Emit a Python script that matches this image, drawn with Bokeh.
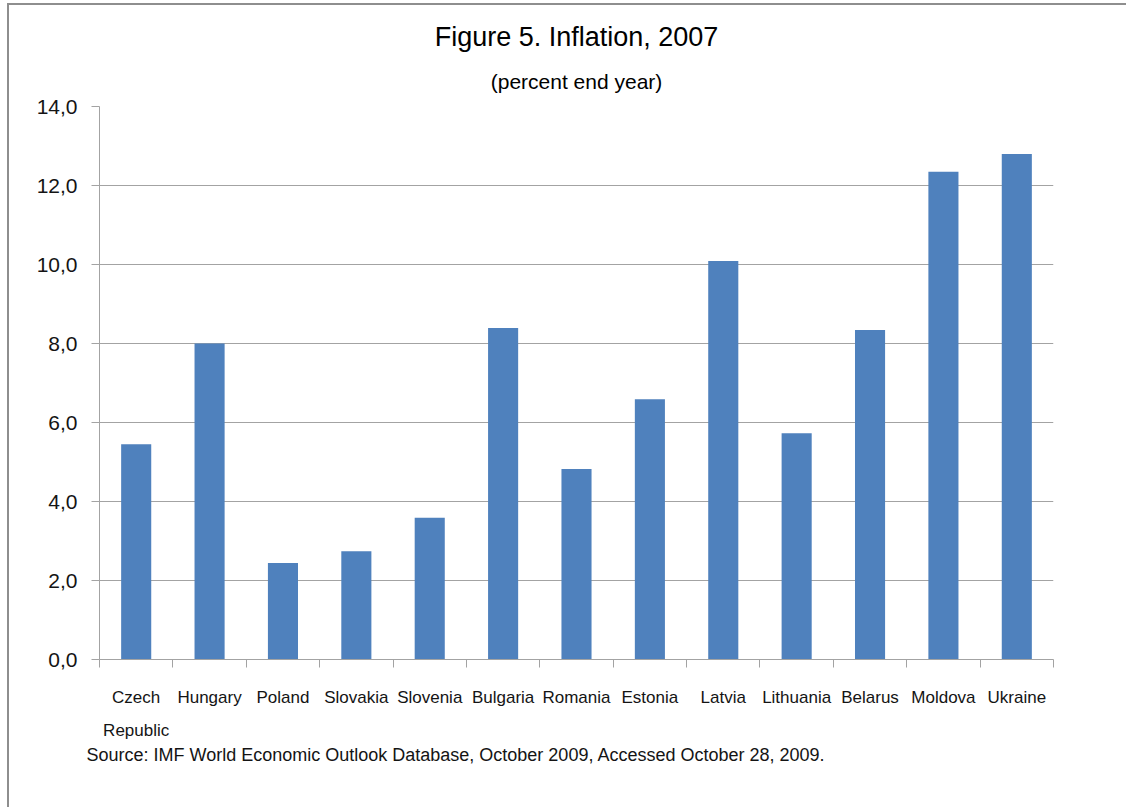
from bokeh.plotting import figure
from bokeh.models import Range1d, FixedTicker, CustomJSTickFormatter, LinearAxis, Title
from bokeh.embed import file_html
from bokeh.resources import INLINE

countries = ["Czech\nRepublic", "Hungary", "Poland", "Slovakia", "Slovenia", "Bulgaria",
             "Romania", "Estonia", "Latvia", "Lithuania", "Belarus", "Moldova", "Ukraine"]
inflation = [5.45, 8.0, 2.44, 2.74, 3.59, 8.39, 4.82, 6.59, 10.09, 5.73, 8.34, 12.35, 12.8]
y_ticks = [0, 2, 4, 6, 8, 10, 12, 14]
title_text = "Figure 5. Inflation, 2007"
subtitle_text = "(percent end year)"
source_text = "Source: IMF World Economic Outlook Database, October 2009, Accessed October 28, 2009."

n = len(countries)
centers = [i + 0.5 for i in range(n)]
bounds = list(range(n + 1))

FONT = "Liberation Sans"
TXT = "#141414"
GRID = "#A3A3A3"

p = figure(width=1119, height=804, output_backend="svg", toolbar_location=None,
           x_range=Range1d(0, n), y_range=Range1d(0, 14), x_axis_type=None,
           min_border_left=90, min_border_right=75, min_border_top=101, min_border_bottom=150,
           outline_line_color=None, background_fill_color="white", border_fill_color="white")
p.styles = {"margin-left": "7px", "margin-top": "3px",
            "border-top": "2px solid #8E8E8E", "border-left": "2px solid #8E8E8E"}

p.vbar(x=centers, top=inflation, width=0.41, bottom=0, fill_color="#4F81BD", line_color=None)

# x axis: labels at category centres, tick marks at category boundaries
xaxis = LinearAxis(ticker=FixedTicker(ticks=centers, minor_ticks=bounds))
xaxis.formatter = CustomJSTickFormatter(args=dict(names=countries),
                                        code="return names[Math.floor(tick)];")
xaxis.axis_line_color = GRID
xaxis.major_tick_line_color = None
xaxis.minor_tick_line_color = GRID
xaxis.minor_tick_out = 8
xaxis.minor_tick_in = 0
xaxis.major_label_standoff = 20
xaxis.major_label_text_font = FONT
xaxis.major_label_text_font_size = "17px"
xaxis.major_label_text_color = TXT
xaxis.major_label_text_line_height = 1.75
p.add_layout(xaxis, "below")

yaxis = p.yaxis[0]
yaxis.ticker = FixedTicker(ticks=y_ticks)
yaxis.formatter = CustomJSTickFormatter(code="return tick.toFixed(1).replace('.', ',');")
yaxis.axis_line_color = GRID
yaxis.major_tick_line_color = GRID
yaxis.major_tick_out = 8
yaxis.major_tick_in = 0
yaxis.minor_tick_line_color = None
yaxis.major_label_standoff = 14
yaxis.major_label_text_font = FONT
yaxis.major_label_text_font_size = "21px"
yaxis.major_label_text_color = TXT

p.xgrid.grid_line_color = None
p.ygrid.grid_line_color = GRID
p.ygrid.grid_line_width = 1
p.ygrid.ticker = FixedTicker(ticks=y_ticks)

# titles above the frame (first added sits closest to the frame)
p.add_layout(Title(text=subtitle_text, align="center", offset=10, standoff=27,
                   text_font=FONT, text_font_size="21px", text_font_style="normal",
                   text_color="#000000"), "above")
p.add_layout(Title(text=title_text, align="center", offset=9, standoff=6,
                   text_font=FONT, text_font_size="27px", text_font_style="normal",
                   text_color="#000000"), "above")
# source note below the axis
p.add_layout(Title(text=source_text, align="left", offset=-13, standoff=0,
                   text_font=FONT, text_font_size="18px", text_font_style="normal",
                   text_color=TXT), "below")

open("out.html", "w").write(file_html(p, INLINE))
